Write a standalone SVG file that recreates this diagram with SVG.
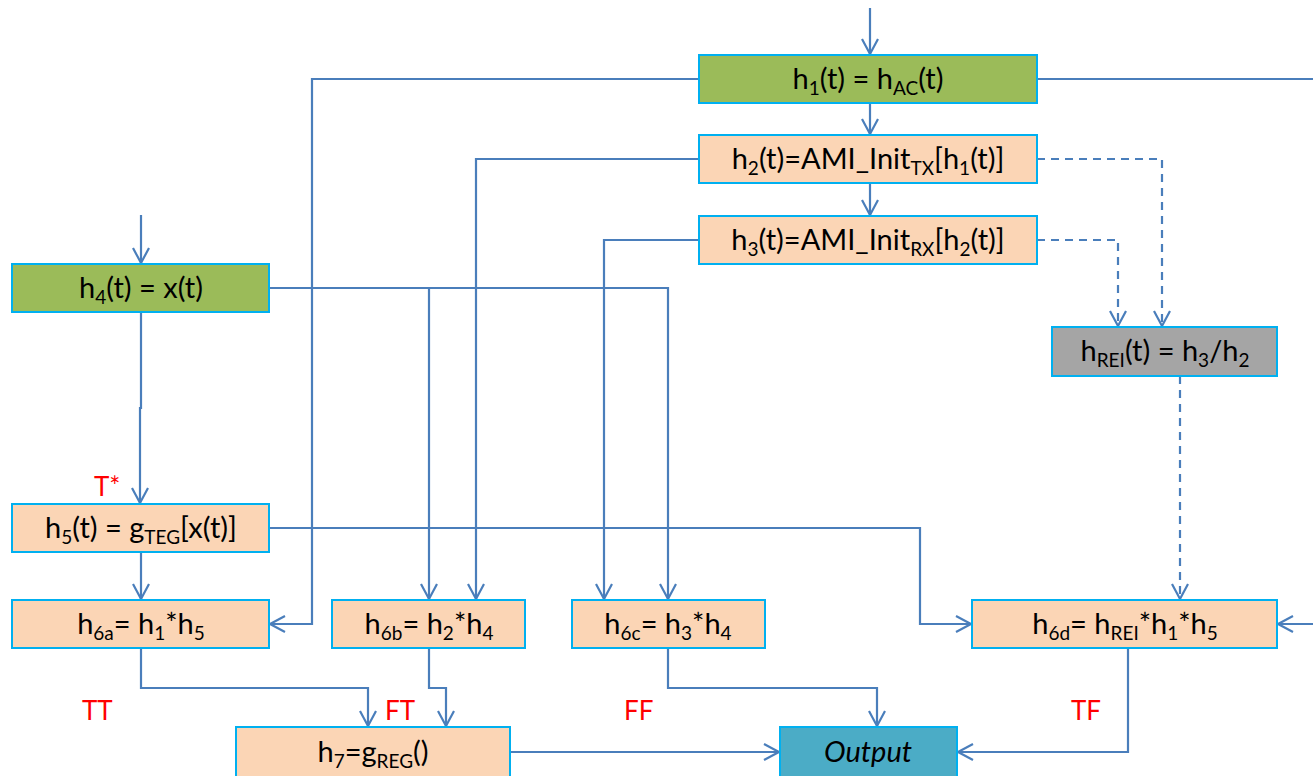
<svg xmlns="http://www.w3.org/2000/svg" width="1313" height="776" viewBox="0 0 1313 776">
<style>
.box{stroke:#00B0F0;stroke-width:2}
.green{fill:#9BBB59}
.peach{fill:#FBD5B5}
.gray{fill:#A5A5A5}
.out{fill:#4BACC6}
.t{font-family:Lato,"Liberation Sans",sans-serif;font-size:29px;fill:#000;text-anchor:middle}
.s{font-size:19px}
.lab{font-family:Lato,"Liberation Sans",sans-serif;font-size:26px;fill:#FF0000}
.c{fill:none;stroke:#4A7EBB;stroke-width:2.2}
.d{stroke-dasharray:8 6}
</style>
<defs>
<marker id="a" markerUnits="userSpaceOnUse" markerWidth="20" markerHeight="20" refX="16" refY="9" orient="auto">
<path d="M1,1 L16,9 L1,17" fill="none" stroke="#4A7EBB" stroke-width="2.2"/>
</marker>
</defs>
<g id="connectors">
<path class="c" d="M870,8 V54" marker-end="url(#a)"/>
<path class="c" d="M870,104 V134" marker-end="url(#a)"/>
<path class="c" d="M870,184 V215" marker-end="url(#a)"/>
<path class="c" d="M699,79 H312 V624 H270" marker-end="url(#a)"/>
<path class="c" d="M1037,79 H1313"/>
<path class="c" d="M1313,624 H1278" marker-end="url(#a)"/>
<path class="c" d="M699,159 H476 V599" marker-end="url(#a)"/>
<path class="c" d="M699,240 H604 V599" marker-end="url(#a)"/>
<path class="c d" d="M1037,159 H1162 V326" marker-end="url(#a)"/>
<path class="c d" d="M1037,240 H1118 V326" marker-end="url(#a)"/>
<path class="c d" d="M1180,376 V599" marker-end="url(#a)"/>
<path class="c" d="M141,215 V263" marker-end="url(#a)"/>
<path class="c" d="M269,288 H668 V599" marker-end="url(#a)"/>
<path class="c" d="M429,288 V599" marker-end="url(#a)"/>
<path class="c" d="M141,312 V408 H140 V503" marker-end="url(#a)"/>
<path class="c" d="M269,528 H920 V624 H971" marker-end="url(#a)"/>
<path class="c" d="M141,552 V599" marker-end="url(#a)"/>
<path class="c" d="M141,648 V688 H368 V726" marker-end="url(#a)"/>
<path class="c" d="M429,648 V688 H446 V726" marker-end="url(#a)"/>
<path class="c" d="M668,648 V688 H877 V726" marker-end="url(#a)"/>
<path class="c" d="M1128,648 V752 H958" marker-end="url(#a)"/>
<path class="c" d="M510,752 H779" marker-end="url(#a)"/>
</g>
<g id="h1"><rect class="box green" x="699" y="55" width="338" height="48"/>
<text class="t" x="868" y="89">h<tspan class="s" dy="6">1</tspan><tspan dy="-6">(t) = h</tspan><tspan class="s" dy="6">AC</tspan><tspan dy="-6">(t)</tspan></text></g>
<g id="h2"><rect class="box peach" x="699" y="135" width="338" height="48"/>
<text class="t" x="868" y="169">h<tspan class="s" dy="6">2</tspan><tspan dy="-6">(t)=AMI_Init</tspan><tspan class="s" dy="6">TX</tspan><tspan dy="-6">[h</tspan><tspan class="s" dy="6">1</tspan><tspan dy="-6">(t)]</tspan></text></g>
<g id="h3"><rect class="box peach" x="699" y="216" width="338" height="48"/>
<text class="t" x="868" y="250">h<tspan class="s" dy="6">3</tspan><tspan dy="-6">(t)=AMI_Init</tspan><tspan class="s" dy="6">RX</tspan><tspan dy="-6">[h</tspan><tspan class="s" dy="6">2</tspan><tspan dy="-6">(t)]</tspan></text></g>
<g id="hREI"><rect class="box gray" x="1052" y="327" width="225" height="49"/>
<text class="t" x="1165" y="361">h<tspan class="s" dy="6">REI</tspan><tspan dy="-6">(t) = h</tspan><tspan class="s" dy="6">3</tspan><tspan dy="-6">/h</tspan><tspan class="s" dy="6">2</tspan></text></g>
<g id="h4"><rect class="box green" x="12" y="264" width="257" height="48"/>
<text class="t" x="141" y="298">h<tspan class="s" dy="6">4</tspan><tspan dy="-6">(t) = x(t)</tspan></text></g>
<g id="h5"><rect class="box peach" x="12" y="504" width="257" height="48"/>
<text class="t" x="141" y="538">h<tspan class="s" dy="6">5</tspan><tspan dy="-6">(t) = g</tspan><tspan class="s" dy="6">TEG</tspan><tspan dy="-6">[x(t)]</tspan></text></g>
<g id="h6a"><rect class="box peach" x="12" y="600" width="257" height="48"/>
<text class="t" x="141" y="634">h<tspan class="s" dy="6">6a</tspan><tspan dy="-6">= h</tspan><tspan class="s" dy="6">1</tspan><tspan dy="-6">*h</tspan><tspan class="s" dy="6">5</tspan></text></g>
<g id="h6b"><rect class="box peach" x="332" y="600" width="193" height="48"/>
<text class="t" x="429" y="634">h<tspan class="s" dy="6">6b</tspan><tspan dy="-6">= h</tspan><tspan class="s" dy="6">2</tspan><tspan dy="-6">*h</tspan><tspan class="s" dy="6">4</tspan></text></g>
<g id="h6c"><rect class="box peach" x="572" y="600" width="193" height="48"/>
<text class="t" x="668" y="634">h<tspan class="s" dy="6">6c</tspan><tspan dy="-6">= h</tspan><tspan class="s" dy="6">3</tspan><tspan dy="-6">*h</tspan><tspan class="s" dy="6">4</tspan></text></g>
<g id="h6d"><rect class="box peach" x="972" y="600" width="305" height="48"/>
<text class="t" x="1125" y="634">h<tspan class="s" dy="6">6d</tspan><tspan dy="-6">= h</tspan><tspan class="s" dy="6">REI</tspan><tspan dy="-6">*h</tspan><tspan class="s" dy="6">1</tspan><tspan dy="-6">*h</tspan><tspan class="s" dy="6">5</tspan></text></g>
<g id="h7"><rect class="box peach" x="236" y="727" width="274" height="50"/>
<text class="t" x="373" y="762">h<tspan class="s" dy="6">7</tspan><tspan dy="-6">=g</tspan><tspan class="s" dy="6">REG</tspan><tspan dy="-6">()</tspan></text></g>
<g id="output"><rect class="box out" x="780" y="727" width="177" height="50"/>
<text class="t" x="868" y="762" font-style="italic">Output</text></g>
<g id="labels">
<text class="lab" x="94" y="496">T*</text>
<text class="lab" x="82" y="720">TT</text>
<text class="lab" x="385" y="720">FT</text>
<text class="lab" x="624" y="720">FF</text>
<text class="lab" x="1071" y="720">TF</text>
</g>
</svg>
